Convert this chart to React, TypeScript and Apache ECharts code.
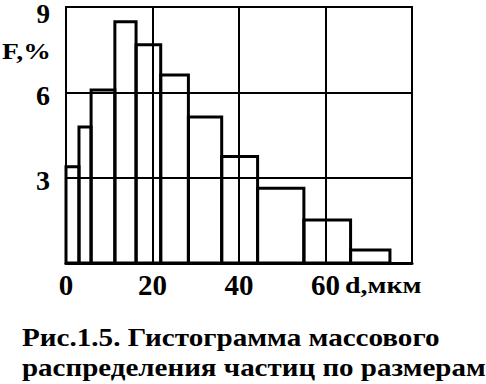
import React, { useEffect, useRef } from "react";
import * as echarts from "echarts";

const binEdges = [0, 3, 5.8, 11.3, 16.2, 21.9, 28.3, 36, 44.3, 55, 65.8, 74.9];
const binHeights = [3.38, 4.78, 6.08, 8.48, 7.67, 6.61, 5.13, 3.74, 2.63, 1.51, 0.46];
const xTicks = [0, 20, 40, 60, 80];
const yTicks = [0, 3, 6, 9];
const xTitle = "d,мкм";
const yTitle = "F,%";
const captionLines = ["Рис.1.5. Гистограмма массового", "распределения частиц по размерам"];

const FONT = "Liberation Serif";

export default function App() {
  const ref = useRef<HTMLDivElement>(null);
  useEffect(() => {
    document.body.style.margin = "0";
    if (!ref.current) return;
    const chart = echarts.init(ref.current, null, { renderer: "svg" });
    const data = binHeights.map((h, i) => [binEdges[i], binEdges[i + 1], h]);
    const yMax = yTicks[yTicks.length - 1];
    const txt = (text: string, size: number) => ({
      text,
      fill: "#000",
      fontFamily: FONT,
      fontWeight: "bold",
      fontSize: size,
      verticalAlign: "top",
      align: "left",
    });
    const labelFont = { color: "#000", fontFamily: FONT, fontWeight: "bold", fontSize: 28 };
    chart.setOption({
      animation: false,
      backgroundColor: "#ffffff",
      grid: {
        left: 66,
        top: 7,
        width: 346,
        height: 256,
        outerBoundsMode: "none",
        containLabel: false,
        show: true,
        borderColor: "#000",
        borderWidth: 2,
      },
      xAxis: {
        type: "value",
        min: xTicks[0],
        max: xTicks[xTicks.length - 1],
        interval: 20,
        axisLine: { show: true, lineStyle: { color: "#000", width: 3 } },
        axisTick: { show: false },
        splitLine: { show: true, lineStyle: { color: "#000", width: 2 } },
        axisLabel: {
          color: "#000",
          fontFamily: FONT,
          fontWeight: "bold",
          fontSize: 29,
          margin: 7,
          formatter: (v: number) => (v === 80 ? "" : String(v)),
        },
      },
      yAxis: {
        type: "value",
        min: yTicks[0],
        max: yMax,
        interval: 3,
        axisLine: { show: true, lineStyle: { color: "#000", width: 2 } },
        axisTick: { show: false },
        splitLine: { show: true, lineStyle: { color: "#000", width: 2 } },
        axisLabel: {
          ...labelFont,
          margin: 16,
          formatter: (v: number) =>
            v === 0 ? "" : v === yMax ? `{t|${v}}` : `{n|${v}}`,
          rich: {
            t: { ...labelFont, fontSize: 27, lineHeight: 27, padding: [14, 0, 0, 0] },
            n: { ...labelFont, padding: [6, 0, 0, 0] },
          },
        },
      },
      series: [
        {
          type: "custom",
          data,
          encode: { x: [0, 1], y: 2 },
          renderItem: (params: any, api: any) => {
            const p0 = api.coord([api.value(0), 0]);
            const p1 = api.coord([api.value(1), api.value(2)]);
            return {
              type: "rect",
              shape: { x: p0[0], y: p1[1], width: p1[0] - p0[0], height: p0[1] - p1[1] },
              style: { fill: "none", stroke: "#000", lineWidth: 3 },
            };
          },
        },
      ],
      graphic: [
        { type: "text", x: 2, y: 39, scaleX: 1.2, style: txt(yTitle, 23) },
        { type: "text", x: 345, y: 273, scaleX: 1.16, style: txt(xTitle, 24) },
        { type: "text", x: 22, y: 325, scaleX: 1.165, style: txt(captionLines[0], 25) },
        { type: "text", x: 22, y: 355, scaleX: 1.16, style: txt(captionLines[1], 25) },
      ],
    });
    return () => chart.dispose();
  }, []);
  return <div ref={ref} style={{ width: 486, height: 384 }} />;
}
